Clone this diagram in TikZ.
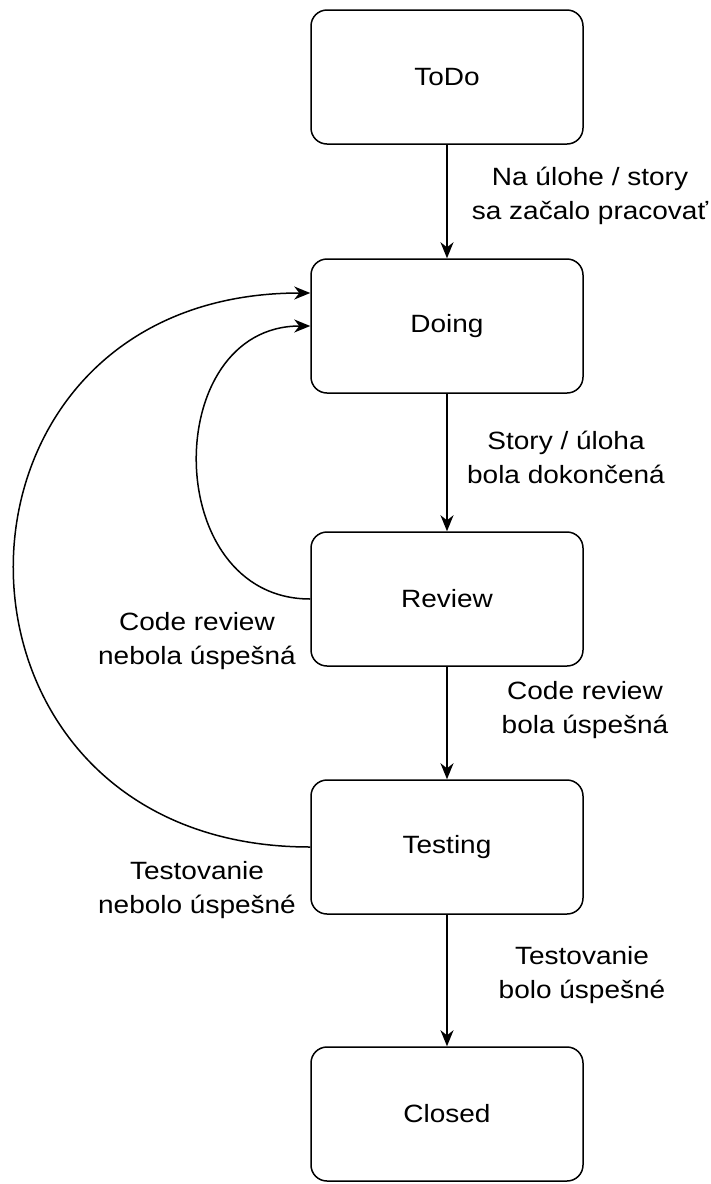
\documentclass[tikz,border=0pt]{standalone}
\usepackage{fontspec}
\setmainfont{Liberation Sans}[FakeStretch=1.12]
\usetikzlibrary{arrows.meta}
\tikzset{
  state/.style = {
    draw, rounded corners=16pt, line width=1.5pt,
    minimum width=272pt, minimum height=134pt,
    font=\fontsize{25}{34}\selectfont
  },
  lbl/.style  = {align=center, font=\fontsize{25}{34}\selectfont}, % edge texts
  flow/.style = {line width=1.5pt, -{Stealth[length=16pt,width=13pt,inset=5pt]}}
}

\begin{document}
\begin{tikzpicture}[x=1pt,y=-1pt]
\useasboundingbox (0,0) rectangle (710,1184);
\node[state] (todo)    at (447,77)   {ToDo};
\node[state] (doing)   at (447,326)  {Doing};
\node[state] (review)  at (447,599)  {Review};
\node[state] (testing) at (447,847)  {Testing};
\node[state] (closed)  at (447,1114) {Closed};
% straight flow down
\draw[flow] (todo) -- (doing);
\draw[flow] (doing) -- (review);
\draw[flow] (review) -- (testing);
\draw[flow] (testing) -- (closed);
% back to Doing
\draw[flow] (review.west) .. controls (160,599) and (160,326) .. (doing.west);
\draw[flow] (testing.west) .. controls (-84,847) and (-84,293) .. ([yshift=33pt]doing.west);
\node[lbl] (l1) at (590,196) {Na úlohe / story\\sa začalo pracovať};
\node[lbl] (l2) at (566,457) {Story / úloha\\bola dokončená};
\node[lbl] (l3) at (197,641) {Code review\\nebola úspešná};
\node[lbl] (l4) at (585,710) {Code review\\bola úspešná};
\node[lbl] (l5) at (197,890) {Testovanie\\nebolo úspešné};
\node[lbl] (l6) at (582,975) {Testovanie\\bolo úspešné};
\end{tikzpicture}
\end{document}
